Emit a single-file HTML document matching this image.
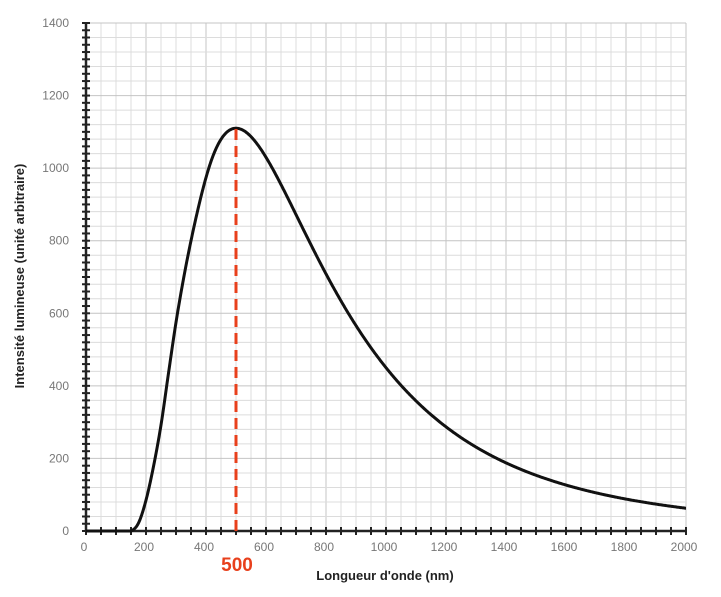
<!DOCTYPE html>
<html><head><meta charset="utf-8"><style>
body{margin:0;background:#fff;}
svg{display:block;font-family:"Liberation Sans",Arial,sans-serif;}
</style></head><body>
<svg id="s" width="721" height="597" xmlns="http://www.w3.org/2000/svg">
<g id="grid"></g>
<g id="lab" font-size="12" fill="#777"></g>
<path id="curve" fill="none" stroke="#111" stroke-width="3" stroke-linejoin="round"/>
<line x1="236" y1="531" x2="236" y2="126" stroke="#e8401c" stroke-width="3" stroke-dasharray="11,6"/>
<text x="237" y="571" font-size="19" font-weight="bold" fill="#e8401c" text-anchor="middle">500</text>
<text x="385" y="580" font-size="13" font-weight="bold" fill="#222" text-anchor="middle">Longueur d'onde (nm)</text>
<text transform="translate(24,276) rotate(-90)" font-size="13" font-weight="bold" fill="#222" text-anchor="middle">Intensité lumineuse (unité arbitraire)</text>
</svg>
<script>
var X0=86,XW=600,Y0=531,YH=508;
function px(l){return X0+l/2000*XW;}
function py(v){return Y0-v/1400*YH;}
var g='';
for(var l=50;l<=2000;l+=50){var x=px(l);g+='<line x1="'+x+'" y1="'+py(1400)+'" x2="'+x+'" y2="'+Y0+'" stroke="'+(l%200==0?'#c4c4c4':'#dcdcdc')+'" stroke-width="1"/>';}
for(var v=40;v<=1400;v+=40){var y=py(v);g+='<line x1="'+X0+'" y1="'+y+'" x2="'+px(2000)+'" y2="'+y+'" stroke="'+(v%200==0?'#c4c4c4':'#dcdcdc')+'" stroke-width="1"/>';}
g+='<line x1="'+X0+'" y1="'+py(1400)+'" x2="'+X0+'" y2="'+Y0+'" stroke="#222" stroke-width="2.5"/>';
g+='<line x1="'+X0+'" y1="'+Y0+'" x2="'+px(2000)+'" y2="'+Y0+'" stroke="#222" stroke-width="2.5"/>';
for(var v=0;v<=1400;v+=20){var y=py(v);g+='<line x1="'+(X0-4)+'" y1="'+y+'" x2="'+(X0+4)+'" y2="'+y+'" stroke="#222" stroke-width="2"/>';}
for(var l=0;l<=2000;l+=50){var x=px(l);g+='<line x1="'+x+'" y1="'+(Y0-4)+'" x2="'+x+'" y2="'+(Y0+4)+'" stroke="#222" stroke-width="2"/>';}
document.getElementById('grid').innerHTML=g;
var t='';
for(var v=0;v<=1400;v+=200)t+='<text x="69" y="'+(py(v)+4)+'" text-anchor="end">'+v+'</text>';
for(var l=0;l<=2000;l+=200)t+='<text x="'+(px(l)-2)+'" y="551" text-anchor="middle">'+l+'</text>';
document.getElementById('lab').innerHTML=t;
var b=2483;function P(l){return Math.pow(l,-5)/(Math.exp(b/l)-1);}
var k=1110/P(500);
var tb=[[125,0],[150,0],[175,22],[200,85],[225,178],[250,292],[275,435],[300,575],[325,695],[350,800],[375,893],[400,k*P(400)],[425,k*P(425)]];
function V(l){
 if(l<=150)return 0;
 if(l<400){var i=Math.floor((l-125)/25);var f=(l-tb[i][0])/25;
  var p0=tb[i-1][1],p1=tb[i][1],p2=tb[i+1][1],p3=tb[i+2][1];
  var v=0.5*((2*p1)+(-p0+p2)*f+(2*p0-5*p1+4*p2-p3)*f*f+(-p0+3*p1-3*p2+p3)*f*f*f);
  return Math.max(0,v);}
 return k*P(l);
}
var d='M'+X0+','+Y0;
for(var l=2;l<=2000;l+=2){d+=' L'+px(l).toFixed(1)+','+py(V(l)).toFixed(1);}
document.getElementById('curve').setAttribute('d',d);
</script>
</body></html>
